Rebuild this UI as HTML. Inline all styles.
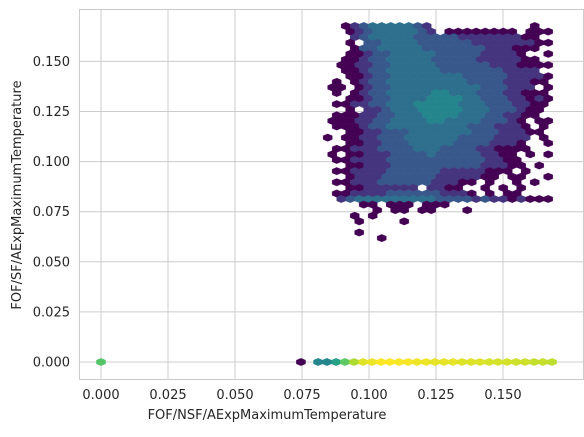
<!DOCTYPE html>
<html><head><meta charset="utf-8">
<style>
html,body{margin:0;padding:0;background:#fff;}
svg text{font-family:"DejaVu Sans","Liberation Sans",sans-serif;fill:#262626;}
</style></head>
<body>
<svg width="584" height="432" viewBox="0 0 584 432" xmlns="http://www.w3.org/2000/svg">
<rect x="0" y="0" width="584" height="432" fill="#fff"/>
<g id="grid"></g>
<g id="hexes"></g>
<g id="axes"></g>
<text x="267" y="419" font-size="13" text-anchor="middle">FOF/NSF/AExpMaximumTemperature</text>
<text transform="translate(21,195) rotate(-90)" font-size="13" text-anchor="middle">FOF/SF/AExpMaximumTemperature</text>
</svg>
<script>
const xTicks=[0.000,0.025,0.050,0.075,0.100,0.125,0.150];
const xTickLabels=["0.000","0.025","0.050","0.075","0.100","0.125","0.150"];
const yTicks=[0.000,0.025,0.050,0.075,0.100,0.125,0.150];
const yTickLabels=["0.000","0.025","0.050","0.075","0.100","0.125","0.150"];
// zero-row (y = 0) bins: x centers and intensity levels (1..9)
const zeroRowX=[0.0,0.0746,0.0810,0.0843,0.0877,0.0910,0.0944,0.0978,0.1011,0.1045,0.1078,0.1112,0.1146,0.1179,0.1213,0.1246,0.1280,0.1313,0.1347,0.1381,0.1414,0.1448,0.1481,0.1515,0.1549,0.1582,0.1616,0.1649,0.1683];
const zeroRowLevel=[6.8,1,4.6,4.6,5.6,7,8,8.6,8.8,9,9,8.9,8.9,8.8,8.8,8.7,8.7,8.7,8.6,8.6,8.6,8.5,8.5,8.5,8.4,8.4,8.3,8.3,8.2];
// cluster bins: rows top->bottom, one char per lattice column, '.' = empty
const clusterRows=[
"..1234444432...........1.",
"..1234444432.11111111.111",
"...234444433333222222211.",
"..1.334444333333222222211",
"...133444443333333222111.",
"..11233444443333322221..1",
"..1123344444333332222211.",
".112233444443333332221111",
"..1123344444433333332222.",
"..11233444444443333322221",
".1.1233444444444333322211",
"11.12334444444444333222.1",
".1.1233444445544433322111",
"..11233444455554433322121",
".112233444555554443332211",
"..1.22344455555444333211.",
".11122334445555444332211.",
"1112233444455444433321.11",
".1112334444444443332221.1",
"..1122333444444433322211.",
"1.112233344444433332222.1",
"..11223334444433332221..1",
".1122233334443333221111..",
"1.1122233334333332211.1.1",
".112222333333333332211...",
"..11222333333333322211.1.",
".11222233333322222111.1..",
"..12223333332222211.11..1",
".1122233333322211.1..1.1.",
"..11222222.2211..1.1.1...",
".1122223333332221.1.11...",
".234444444443333232212111",
"....11.111.111...........",
".....1.11.11...1.........",
"...1.1...................",
"...1....1................",
".........................",
"...1.....................",
"......1.................."
];
const digitLevel=[0,1,2.2,3.2,3.9,4.6];
const clusterY0=0.16766, clusterDY=0.002785, clusterX0=0.0846, clusterDX=0.003358;

const PL=79.5,PR=583.5,PT=9.5,PB=379.5;
function xs(v){return 101+2680*v;}
function ys(v){return 362-2004*v;}
const NS="http://www.w3.org/2000/svg";
function mk(tag,attrs,parent){const e=document.createElementNS(NS,tag);for(const k in attrs)e.setAttribute(k,attrs[k]);parent.appendChild(e);return e;}
const vir=["#440154","#472d7b","#3b528b","#2c728e","#21918c","#28ae80","#5ec962","#addc30","#fde725"];
function hex2rgb(h){return [1,3,5].map(i=>parseInt(h.substr(i,2),16));}
function color(l){let t=Math.max(0,Math.min(8,l-1));let i=Math.min(7,Math.floor(t));let f=t-i;const a=hex2rgb(vir[i]),b=hex2rgb(vir[i+1]);return "rgb("+a.map((v,k)=>Math.round(v+(b[k]-v)*f)).join(",")+")";}
const grid=document.getElementById('grid'),axes=document.getElementById('axes'),hexes=document.getElementById('hexes');
xTicks.forEach((t,i)=>{
 const l=mk('line',{x1:xs(t),x2:xs(t),y1:PT,y2:PB,stroke:'#cccccc','stroke-width':1},grid);
 
 
 const tx=mk('text',{x:xs(t),y:399,'font-size':13,'text-anchor':'middle'},axes);tx.textContent=xTickLabels[i];
 
 
});
yTicks.forEach((t,i)=>{
 const l=mk('line',{x1:PL,x2:PR,y1:ys(t),y2:ys(t),stroke:'#cccccc','stroke-width':1},grid);
 
 
 const tx=mk('text',{x:70,y:ys(t)+4.5,'font-size':13,'text-anchor':'end'},axes);tx.textContent=yTickLabels[i];
 
 
});
const fr=mk('rect',{x:PL,y:PT,width:PR-PL,height:PB-PT,fill:'none',stroke:'#cccccc','stroke-width':1},axes);


function hexPath(cx,cy){const w=4.6,h=3.75,q=1.87;return `M${cx},${cy-h}L${cx+w},${cy-q}L${cx+w},${cy+q}L${cx},${cy+h}L${cx-w},${cy+q}L${cx-w},${cy-q}Z`;}
function drawHex(x,y,l){const c=color(l);const p=mk('path',{d:hexPath(xs(x),ys(y)),fill:c,stroke:c,'stroke-width':0.3},hexes);
 
 }
clusterRows.forEach((row,r)=>{
 const y=clusterY0-r*clusterDY;
 for(let c=0;c<Math.min(row.length,25);c++){const ch=row[c];if(ch==='.')continue;
  const x=clusterX0+c*clusterDX+(r%2?clusterDX/2:0);
  drawHex(x,y,digitLevel[parseInt(ch,10)]);}
});
zeroRowX.forEach((x,i)=>drawHex(x,0,zeroRowLevel[i]));
</script>
</body></html>
